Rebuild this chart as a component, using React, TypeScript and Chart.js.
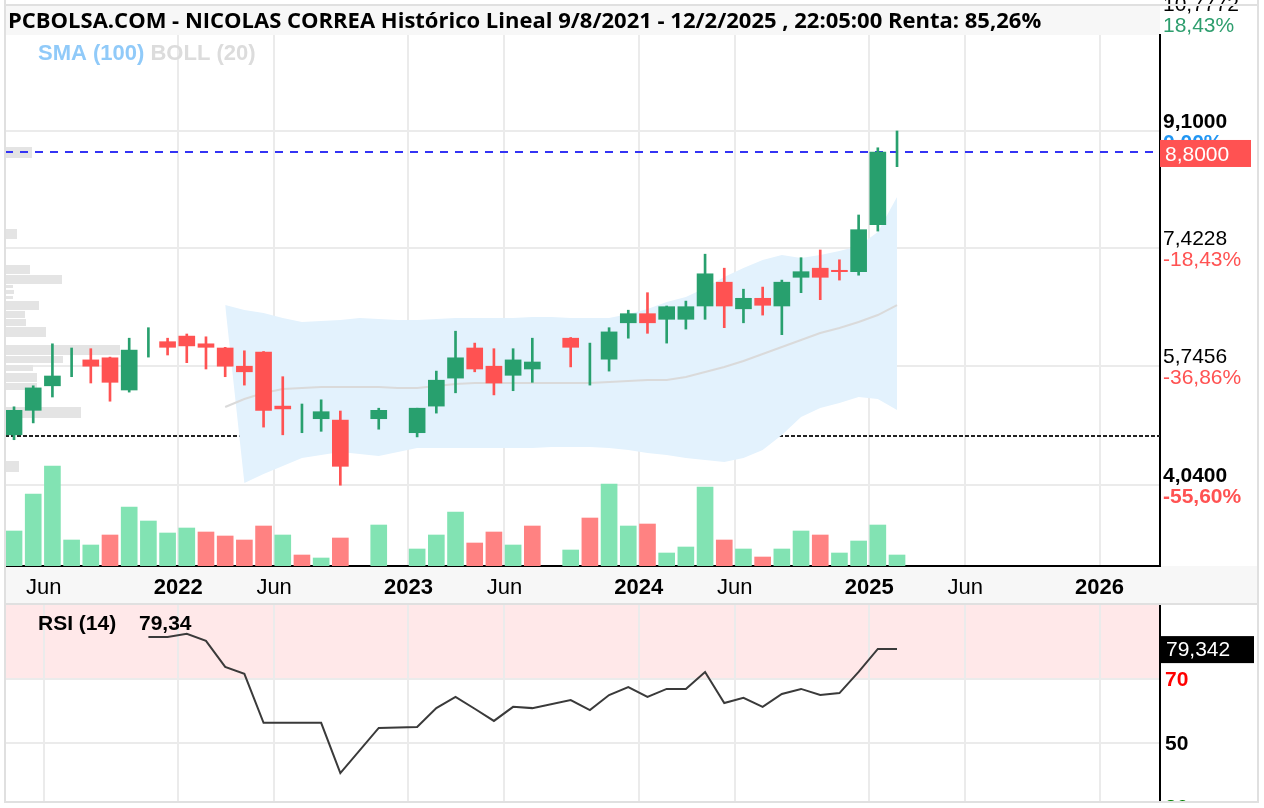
import React, { useEffect, useRef } from 'react';
import { Chart, registerables } from 'chart.js';

Chart.register(...registerables);

// ---------------- DATA ----------------
const months = [
  '2021-04', '2021-05', '2021-06', '2021-07', '2021-08', '2021-09', '2021-10', '2021-11', '2021-12',
  '2022-01', '2022-02', '2022-03', '2022-04', '2022-05', '2022-06', '2022-07', '2022-08', '2022-09', '2022-10', '2022-11', '2022-12',
  '2023-01', '2023-02', '2023-03', '2023-04', '2023-05', '2023-06', '2023-07', '2023-08', '2023-09', '2023-10', '2023-11', '2023-12',
  '2024-01', '2024-02', '2024-03', '2024-04', '2024-05', '2024-06', '2024-07', '2024-08', '2024-09', '2024-10', '2024-11', '2024-12',
  '2025-01', '2025-02',
];

const opens: (number | null)[] = [
  4.76, 5.11, 5.46, 5.80, 5.83, 5.86, 5.40, 6.02, 6.09,
  6.17, 6.06, 6.00, 5.74, 5.94, 5.17, 5.02, 4.99, 4.97, null, 4.99, null,
  4.79, 5.17, 5.57, 6.00, 5.74, 5.61, 5.70, null, 6.14, 5.76, 5.84, 6.36,
  6.49, 6.41, 6.41, 6.60, 6.94, 6.56, 6.71, 6.60, 7.01, 7.14, 7.11, 7.09,
  7.76, 8.80,
];
const highs: (number | null)[] = [
  5.16, 5.46, 6.06, 6.00, 5.99, 5.87, 6.14, 6.29, 6.14,
  6.20, 6.16, 6.01, 5.96, 5.95, 5.59, 5.20, 5.26, 5.10, null, 5.14, null,
  5.14, 5.67, 6.24, 6.07, 5.99, 5.99, 6.14, null, 6.15, 6.07, 6.29, 6.54,
  6.79, 6.60, 6.67, 7.34, 7.14, 6.84, 6.87, 6.97, 7.29, 7.40, 7.26, 7.90,
  8.86, 9.10,
];
const lows: (number | null)[] = [
  4.69, 4.93, 5.30, 5.59, 5.50, 5.24, 5.37, 5.87, 5.90,
  5.79, 5.70, 5.59, 5.47, 4.87, 4.76, 4.79, 4.81, 4.04, null, 4.84, null,
  4.73, 5.07, 5.36, 5.66, 5.33, 5.39, 5.51, null, 5.73, 5.47, 5.67, 6.14,
  6.21, 6.07, 6.27, 6.41, 6.29, 6.36, 6.47, 6.19, 6.79, 6.69, 6.97, 7.04,
  7.67, 8.59,
];
const closes: (number | null)[] = [
  5.11, 5.43, 5.60, 5.80, 5.74, 5.51, 5.97, 6.02, 6.01,
  6.03, 6.01, 5.74, 5.66, 5.11, 5.13, 5.02, 5.09, 4.31, null, 5.11, null,
  5.14, 5.54, 5.86, 5.70, 5.50, 5.83, 5.80, null, 6.01, 5.76, 6.23, 6.49,
  6.36, 6.59, 6.59, 7.06, 6.60, 6.71, 6.61, 6.94, 7.09, 7.01, 7.09, 7.69,
  8.80, 8.80,
];
const volumes: (number | null)[] = [
  35, 72, 100, 26, 21, 31, 59, 45, 33,
  38, 34, 30, 26, 40, 31, 11, 8, 28, null, 41, null,
  17, 31, 54, 23, 34, 21, 40, null, 16, 48, 82, 40,
  42, 13, 19, 79, 26, 17, 9, 17, 35, 31, 13, 25,
  41, 11,
];
const volumeUp: (boolean | null)[] = [
  true, true, true, true, true, false, true, true, true,
  true, false, false, false, false, true, false, true, false, null, true, null,
  true, true, true, false, false, true, false, null, true, false, true, true,
  false, true, true, true, false, true, false, true, true, false, true, true,
  true, true,
];
const bollUpper: (number | null)[] = [
  null, null, null, null, null, null, null, null, null,
  null, null, 6.614, 6.543, 6.500, 6.429, 6.371, 6.386, 6.400, 6.429, 6.414, 6.400,
  6.400, 6.414, 6.429, 6.429, 6.429, 6.429, 6.443, 6.443, 6.429, 6.429, 6.429, 6.486,
  6.557, 6.657, 6.729, 6.857, 7.014, 7.143, 7.257, 7.329, 7.286, 7.329, 7.386, 7.457,
  7.657, 8.157,
];
const bollMiddle: (number | null)[] = [
  null, null, null, null, null, null, null, null, null,
  null, null, 5.157, 5.271, 5.357, 5.414, 5.429, 5.443, 5.443, 5.443, 5.443, 5.429,
  5.429, 5.457, 5.486, 5.500, 5.500, 5.500, 5.500, 5.500, 5.500, 5.500, 5.514, 5.529,
  5.543, 5.543, 5.586, 5.657, 5.729, 5.814, 5.914, 6.014, 6.114, 6.214, 6.286, 6.371,
  6.471, 6.614,
];
const bollLower: (number | null)[] = [
  null, null, null, null, null, null, null, null, null,
  null, null, 6.614, 4.071, 4.200, 4.314, 4.429, 4.471, 4.514, 4.486, 4.457, 4.514,
  4.571, 4.571, 4.571, 4.571, 4.571, 4.571, 4.571, 4.586, 4.586, 4.586, 4.571, 4.543,
  4.500, 4.471, 4.429, 4.400, 4.371, 4.429, 4.543, 4.757, 5.014, 5.143, 5.214, 5.300,
  5.271, 5.114,
];
const rsi14: (number | null)[] = [
  null, null, null, null, null, null, null, 83.1, 83.1,
  84.1, 81.9, 73.8, 71.6, 56.3, 56.3, 56.3, 56.3, 40.6, null, 54.7, null,
  55.0, 60.9, 64.4, 60.7, 56.9, 61.3, 60.9, null, 63.4, 60.3, 65.0, 67.5,
  64.4, 66.9, 66.9, 72.2, 62.5, 64.1, 61.3, 65.3, 66.9, 65.0, 65.6, 72.2,
  79.4, 79.342,
];

// volume-at-price profile (price bins and volume)
const profileLow = [8.714, 7.557, 7.057, 6.914, 6.857, 6.771, 6.700, 6.543, 6.429, 6.314, 6.157, 5.900, 5.786, 5.671, 5.514, 5.400, 5.000, 4.229];
const profileHigh = [8.871, 7.700, 7.186, 7.043, 6.900, 6.829, 6.743, 6.671, 6.529, 6.414, 6.300, 6.043, 5.886, 5.757, 5.643, 5.500, 5.157, 4.386];
const profileVolume = [27, 12, 25, 57, 8, 9, 8, 34, 20, 21, 41, 115, 58, 28, 32, 32, 76, 14];

const xTickMonths = ['2021-06', '2022-01', '2022-06', '2023-01', '2023-06', '2024-01', '2024-06', '2025-01', '2025-06', '2026-01'];
const xTickLabels = ['Jun', '2022', 'Jun', '2023', 'Jun', '2024', 'Jun', '2025', 'Jun', '2026'];
const priceTicks = [10.7772, 9.1, 7.4228, 5.7456, 4.04];
const rsiTicks = [70, 50, 30];
const lastPrice = 8.8;
const basePrice = 4.75;
const titleText = 'PCBOLSA.COM - NICOLAS CORREA Histórico Lineal 9/8/2021 - 12/2/2025 , 22:05:00 Renta: 85,26%';

// ---------------- STYLE / LAYOUT ----------------
const W = 1264;
const MAIN_H = 603;
const RSI_H = 205;
const RIGHT_EDGE = 1258;
const X_MIN = 2.98;
const X_MAX = 63.15;
const P_MIN = 2.886;
const P_MAX = 10.471;
const R_MIN = 31.875;
const R_MAX = 93.125;
const CANDLE_OFFSET = 0.45;
const VOL_FRACTION = 0.1883;
const PROFILE_MAX_PX = 115;

const AX = '"Liberation Sans", Arial, Helvetica, sans-serif';
const TF = '"Open Sans", "Liberation Sans", sans-serif';
const UP = '#28a06e';
const DOWN = '#ff5252';
const VUP = '#82e3b3';
const VDOWN = '#ff8282';
const GRID = '#ebebeb';
const BORDER = '#e0e0e0';

const fmt = (v: number, d: number) => v.toFixed(d).replace('.', ',');
function monthPos(s: string): number {
  const [yy, mm] = s.split('-').map(Number);
  return (yy - 2021) * 12 + (mm - 1);
}

const xs = months.map((m) => monthPos(m) + CANDLE_OFFSET);

function xScaleCfg(isMain: boolean): any {
  return {
    type: 'linear',
    min: X_MIN,
    max: X_MAX,
    offset: false,
    afterBuildTicks: (s: any) => {
      s.ticks = xTickMonths.map((m) => ({ value: monthPos(m) }));
    },
    afterFit: (s: any) => {
      s.height = isMain ? 37 : 0;
    },
    ticks: { display: false },
    grid: {
      offset: false,
      drawTicks: false,
      lineWidth: 2,
      color: (c: any) => (isMain && c.tick && c.tick.value < 6 ? 'rgba(0,0,0,0)' : GRID),
    },
    border: { display: isMain, color: '#000', width: 2 },
  };
}

function drawOuterBorders(ctx: CanvasRenderingContext2D, h: number) {
  ctx.fillStyle = BORDER;
  ctx.fillRect(4, 0, 2, h);
  ctx.fillRect(RIGHT_EDGE - 1, 0, 2, h);
}

const mainDecor = {
  id: 'mainDecor',
  beforeDraw(chart: any) {
    const { ctx, chartArea: ca, width, height } = chart;
    ctx.save();
    ctx.fillStyle = '#ffffff';
    ctx.fillRect(0, 0, width, height);
    ctx.fillStyle = '#f7f7f7';
    ctx.fillRect(ca.left, 5, ca.right - ca.left, ca.top - 5);
    ctx.fillRect(ca.left, ca.bottom, RIGHT_EDGE - ca.left, height - ca.bottom);
    ctx.restore();
  },
  beforeDatasetsDraw(chart: any) {
    const { ctx, chartArea: ca, scales } = chart;
    const y = scales.y;
    ctx.save();
    ctx.beginPath();
    ctx.rect(ca.left, ca.top, ca.right - ca.left, ca.bottom - ca.top);
    ctx.clip();
    const maxV = Math.max(...profileVolume);
    ctx.fillStyle = '#e4e4e4';
    profileLow.forEach((lo, i) => {
      const y1 = y.getPixelForValue(profileHigh[i]);
      const y2 = y.getPixelForValue(lo);
      ctx.fillRect(ca.left, y1, (profileVolume[i] / maxV) * PROFILE_MAX_PX, y2 - y1);
    });
    // reference lines
    ctx.lineWidth = 2;
    const yb = Math.round(y.getPixelForValue(basePrice));
    ctx.strokeStyle = '#222';
    ctx.setLineDash([4, 2]);
    ctx.beginPath();
    ctx.moveTo(ca.left, yb);
    ctx.lineTo(ca.right, yb);
    ctx.stroke();
    const yl = Math.round(y.getPixelForValue(lastPrice));
    ctx.strokeStyle = '#3434f4';
    ctx.setLineDash([8, 7]);
    ctx.beginPath();
    ctx.moveTo(ca.left, yl);
    ctx.lineTo(ca.right, yl);
    ctx.stroke();
    ctx.restore();
  },
  afterDraw(chart: any) {
    const { ctx, chartArea: ca, scales, height } = chart;
    const y = scales.y;
    const x = scales.x;
    ctx.save();
    // title
    ctx.fillStyle = '#000';
    ctx.textAlign = 'left';
    ctx.textBaseline = 'alphabetic';
    ctx.font = `bold 22px ${TF}`;
    ctx.fillText(titleText, 8, 28);
    // legend
    ctx.font = `bold 22px ${AX}`;
    ctx.fillStyle = '#90caf9';
    ctx.fillText('SMA (100)', 38, 60);
    const w1 = ctx.measureText('SMA (100) ').width;
    ctx.fillStyle = '#dcdcdc';
    ctx.fillText('BOLL (20)', 38 + w1, 60);
    // x labels
    ctx.textAlign = 'center';
    ctx.fillStyle = '#000';
    xTickMonths.forEach((m, i) => {
      const isYear = /^\d{4}$/.test(xTickLabels[i]);
      ctx.font = `${isYear ? 'bold ' : ''}22px ${AX}`;
      ctx.fillText(xTickLabels[i], x.getPixelForValue(monthPos(m)), ca.bottom + 28);
    });
    // right price labels
    const maxH = Math.max(...(highs.filter((v) => v != null) as number[]));
    const minL = Math.min(...(lows.filter((v) => v != null) as number[]));
    ctx.textAlign = 'left';
    priceTicks.forEach((v) => {
      const py = y.getPixelForValue(v);
      const bold = Math.abs(v - maxH) < 1e-6 || Math.abs(v - minL) < 1e-6;
      ctx.font = `${bold ? 'bold ' : ''}21px ${AX}`;
      ctx.fillStyle = '#000';
      ctx.fillText(fmt(v, 4), ca.right + 3, py - 3);
      const pct = (v / maxH - 1) * 100;
      const pr = Math.round(pct * 100) / 100;
      ctx.fillStyle = pr > 0 ? '#2e9e6e' : pr < 0 ? DOWN : '#2196f3';
      ctx.fillText(`${fmt(pr, 2)}%`, ca.right + 3, py + 18);
    });
    // last price box
    const yl = y.getPixelForValue(lastPrice);
    ctx.fillStyle = DOWN;
    ctx.fillRect(ca.right, yl - 12, 91, 27);
    ctx.fillStyle = '#fff';
    ctx.font = `21px ${AX}`;
    ctx.fillText(fmt(lastPrice, 4), ca.right + 5, yl + 9);
    // borders
    ctx.fillStyle = BORDER;
    ctx.fillRect(4, 4, RIGHT_EDGE - 3, 2);
    drawOuterBorders(ctx, height);
    ctx.restore();
  },
};

const rsiDecor = {
  id: 'rsiDecor',
  beforeDraw(chart: any) {
    const { ctx, chartArea: ca, width, height, scales } = chart;
    ctx.save();
    ctx.fillStyle = '#ffffff';
    ctx.fillRect(0, 0, width, height);
    const y70 = scales.y.getPixelForValue(70);
    ctx.fillStyle = '#ffe8e9';
    ctx.fillRect(ca.left, ca.top, ca.right - ca.left, y70 - ca.top);
    ctx.restore();
  },
  afterDraw(chart: any) {
    const { ctx, chartArea: ca, scales } = chart;
    const y = scales.y;
    ctx.save();
    ctx.textAlign = 'left';
    ctx.textBaseline = 'alphabetic';
    ctx.fillStyle = '#000';
    ctx.font = `bold 21px ${AX}`;
    const last = rsi14[rsi14.length - 1] as number;
    ctx.fillText('RSI (14)', 38, ca.top + 25);
    ctx.fillText(fmt(last, 2), 139, ca.top + 25);
    // right labels
    ctx.save();
    ctx.beginPath();
    ctx.rect(ca.right, 0, 200, ca.bottom);
    ctx.clip();
    ctx.textBaseline = 'middle';
    const cols: Record<number, string> = { 70: '#ff0000', 50: '#000000', 30: '#008000' };
    rsiTicks.forEach((v) => {
      ctx.fillStyle = cols[v];
      ctx.font = `bold 21px ${AX}`;
      ctx.fillText(String(v), ca.right + 5, y.getPixelForValue(v) + 1);
    });
    ctx.restore();
    const yv = y.getPixelForValue(last);
    ctx.fillStyle = '#000';
    ctx.fillRect(ca.right, yv - 13, 94, 27);
    ctx.fillStyle = '#fff';
    ctx.font = `21px ${AX}`;
    ctx.textBaseline = 'middle';
    ctx.fillText(fmt(last, 3), ca.right + 6, yv + 1);
    // borders
    ctx.fillStyle = BORDER;
    ctx.fillRect(4, 0, RIGHT_EDGE - 3, 2);
    ctx.fillRect(4, ca.bottom, RIGHT_EDGE - 3, 2);
    ctx.fillStyle = '#fff';
    ctx.fillRect(0, ca.bottom + 2, W, 10);
    drawOuterBorders(ctx, ca.bottom + 2);
    ctx.restore();
  },
};

export default function App() {
  const mainRef = useRef<HTMLCanvasElement | null>(null);
  const rsiRef = useRef<HTMLCanvasElement | null>(null);

  useEffect(() => {
    const bodyData: any[] = [];
    const wickData: any[] = [];
    const volData: any[] = [];
    months.forEach((_, i) => {
      const o = opens[i];
      const c = closes[i];
      if (o == null || c == null) return;
      const up = c >= o;
      if (c !== o) bodyData.push({ x: xs[i], y: [Math.min(o, c), Math.max(o, c)], up });
      wickData.push({ x: xs[i], y: [lows[i], highs[i]], up });
    });
    volumes.forEach((v, i) => {
      if (v == null) return;
      volData.push({ x: xs[i], y: v, up: volumeUp[i] });
    });
    const series = (arr: (number | null)[]) => arr.map((v, i) => ({ x: xs[i], y: v }));
    const maxVol = Math.max(...(volumes.filter((v) => v != null) as number[]));

    const main = new Chart(mainRef.current as HTMLCanvasElement, {
      type: 'line',
      data: {
        datasets: [
          {
            type: 'line',
            data: series(bollUpper),
            borderWidth: 0,
            borderColor: 'rgba(0,0,0,0)',
            backgroundColor: '#e3f2fd',
            pointRadius: 0,
            fill: '+1',
            order: 10,
            yAxisID: 'y',
          },
          {
            type: 'line',
            data: series(bollLower),
            borderWidth: 0,
            borderColor: 'rgba(0,0,0,0)',
            pointRadius: 0,
            fill: false,
            order: 9,
            yAxisID: 'y',
          },
          {
            type: 'line',
            data: series(bollMiddle),
            borderWidth: 2,
            borderColor: '#dadada',
            pointRadius: 0,
            fill: false,
            order: 8,
            yAxisID: 'y',
          },
          {
            type: 'bar',
            data: volData,
            yAxisID: 'yVol',
            barThickness: 16,
            grouped: false,
            backgroundColor: (c: any) => (c.raw && c.raw.up ? VUP : VDOWN),
            borderWidth: 0,
            order: 7,
          },
          {
            type: 'bar',
            data: wickData,
            yAxisID: 'y',
            barThickness: 2,
            grouped: false,
            backgroundColor: (c: any) => (c.raw && c.raw.up ? UP : DOWN),
            borderWidth: 0,
            order: 2,
          },
          {
            type: 'bar',
            data: bodyData,
            yAxisID: 'y',
            barThickness: 16,
            grouped: false,
            backgroundColor: (c: any) => (c.raw && c.raw.up ? UP : DOWN),
            borderWidth: 0,
            order: 1,
          },
        ] as any,
      },
      options: {
        responsive: false,
        animation: false,
        devicePixelRatio: 1,
        events: [],
        layout: { padding: { left: 5, top: 35, right: 6, bottom: 0 } },
        plugins: { legend: { display: false }, tooltip: { enabled: false } },
        scales: {
          x: xScaleCfg(true),
          y: {
            type: 'linear',
            position: 'right',
            min: P_MIN,
            max: P_MAX,
            beginAtZero: false,
            afterBuildTicks: (s: any) => {
              s.ticks = priceTicks.filter((v) => v >= P_MIN && v <= P_MAX).map((v) => ({ value: v }));
            },
            afterFit: (s: any) => {
              s.width = 98;
            },
            ticks: { display: false },
            grid: { drawTicks: false, lineWidth: 2, color: GRID },
            border: { display: true, color: '#000', width: 2 },
          },
          yVol: {
            type: 'linear',
            display: false,
            min: 0,
            max: maxVol / VOL_FRACTION,
          },
        } as any,
      },
      plugins: [mainDecor],
    });

    const rsi = new Chart(rsiRef.current as HTMLCanvasElement, {
      type: 'line',
      data: {
        datasets: [
          {
            data: series(rsi14),
            borderColor: '#3a3a3a',
            borderWidth: 2,
            pointRadius: 0,
            spanGaps: true,
            tension: 0,
            fill: false,
          },
        ],
      },
      options: {
        responsive: false,
        animation: false,
        devicePixelRatio: 1,
        events: [],
        layout: { padding: { left: 5, top: 2, right: 6, bottom: 7 } },
        plugins: { legend: { display: false }, tooltip: { enabled: false } },
        scales: {
          x: xScaleCfg(false),
          y: {
            type: 'linear',
            position: 'right',
            min: R_MIN,
            max: R_MAX,
            afterBuildTicks: (s: any) => {
              s.ticks = rsiTicks.filter((v) => v >= R_MIN && v <= R_MAX).map((v) => ({ value: v }));
            },
            afterFit: (s: any) => {
              s.width = 98;
            },
            ticks: { display: false },
            grid: { drawTicks: false, lineWidth: 2, color: GRID },
            border: { display: true, color: '#000', width: 2 },
          },
        } as any,
      },
      plugins: [rsiDecor],
    });

    return () => {
      main.destroy();
      rsi.destroy();
    };
  }, []);

  return (
    <div style={{ position: 'absolute', left: 0, top: 0, width: W, height: MAIN_H + RSI_H, background: '#fff' }}>
      <canvas ref={mainRef} width={W} height={MAIN_H} style={{ position: 'absolute', left: 0, top: 0, display: 'block' }} />
      <canvas ref={rsiRef} width={W} height={RSI_H} style={{ position: 'absolute', left: 0, top: MAIN_H, display: 'block' }} />
    </div>
  );
}
